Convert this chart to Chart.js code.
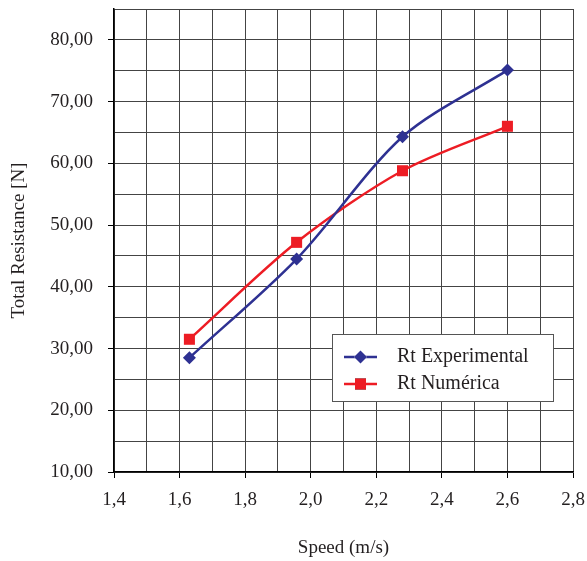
<!DOCTYPE html>
<html>
<head>
<meta charset="utf-8">
<script src="https://cdn.jsdelivr.net/npm/chart.js@4"></script>
<style>
  html, body { margin: 0; padding: 0; background: #fff; }
  #wrap { width: 587px; height: 561px; }
</style>
</head>
<body>
<div id="wrap"><canvas id="myChart" width="587" height="561"></canvas></div>
<script>
const speed = [1.63, 1.957, 2.28, 2.6];
const rtExperimental = [28.5, 44.5, 64.3, 75.1];
const rtNumerica = [31.5, 47.2, 58.8, 66.0];
const seriesNames = ['Rt Experimental', 'Rt Numérica'];

const serif = '"Liberation Serif", "DejaVu Serif", serif';
const textColor = '#231f20';

const toPoints = (xs, ys) => xs.map((x, i) => ({ x: x, y: ys[i] }));

const isMajorX = v => Math.round(v * 10) % 2 === 0;
const isMajorY = v => Math.round(v) % 10 === 0;

// legend box drawn inside the plot, like the original
const boxLegend = {
    id: 'boxLegend',
    afterDraw(chart) {
        const c = chart.ctx;
        const x0 = 332, y0 = 334, w = 221, h = 67;
        c.save();
        c.fillStyle = '#fff';
        c.fillRect(x0, y0, w, h);
        c.strokeStyle = '#555';
        c.lineWidth = 1;
        c.strokeRect(x0 + 0.5, y0 + 0.5, w, h);
        chart.data.datasets.forEach((ds, i) => {
            const y = y0 + 23 + i * 27;
            c.strokeStyle = ds.borderColor;
            c.lineWidth = 2.5;
            c.beginPath();
            c.moveTo(x0 + 12, y);
            c.lineTo(x0 + 45, y);
            c.stroke();
            Chart.helpers.drawPoint(c, {
                pointStyle: ds.pointStyle,
                radius: ds.pointRadius,
                borderWidth: 0
            }, x0 + 28.5, y);
            c.fillStyle = ds.pointBackgroundColor;
            c.fill();
            c.fillStyle = textColor;
            c.font = '20px ' + serif;
            c.textBaseline = 'middle';
            c.fillText(ds.label, x0 + 65, y);
        });
        c.restore();
    }
};

new Chart(document.getElementById('myChart'), {
    type: 'line',
    data: {
        datasets: [
            {
                label: seriesNames[0],
                data: toPoints(speed, rtExperimental),
                borderColor: '#2e3192',
                backgroundColor: '#2e3192',
                pointBackgroundColor: '#2e3192',
                pointBorderWidth: 0,
                pointStyle: 'rectRot',
                pointRadius: 6.5,
                borderWidth: 2.5,
                tension: 0.3
            },
            {
                label: seriesNames[1],
                data: toPoints(speed, rtNumerica),
                borderColor: '#ed1c24',
                backgroundColor: '#ed1c24',
                pointBackgroundColor: '#ed1c24',
                pointBorderWidth: 0,
                pointStyle: 'rect',
                pointRadius: 7.8,
                borderWidth: 2.5,
                tension: 0.3
            }
        ]
    },
    options: {
        responsive: false,
        maintainAspectRatio: false,
        animation: false,
        layout: { padding: { top: 9, right: 14, left: 0, bottom: 0 } },
        plugins: {
            legend: { display: false },
            tooltip: { enabled: false }
        },
        scales: {
            x: {
                type: 'linear',
                min: 1.4,
                max: 2.8,
                afterFit: s => { s.height = 89; s.paddingLeft = 0; s.paddingRight = 0; },
                ticks: {
                    stepSize: 0.1,
                    autoSkip: false,
                    maxRotation: 0,
                    padding: 11,
                    color: textColor,
                    font: { family: serif, size: 19 },
                    callback: v => isMajorX(v) ? v.toFixed(1).replace('.', ',') : ''
                },
                grid: {
                    color: '#444',
                    lineWidth: 1,
                    tickLength: 6,
                    tickColor: ctx => isMajorX(ctx.tick.value) ? '#000' : 'rgba(0,0,0,0)'
                },
                border: { color: '#000', width: 1.5 },
                title: {
                    display: true,
                    text: 'Speed (m/s)',
                    color: textColor,
                    font: { family: serif, size: 19 },
                    padding: { top: 0, bottom: 2 }
                }
            },
            y: {
                type: 'linear',
                min: 10,
                max: 85,
                afterFit: s => { s.width = 114; s.paddingTop = 0; s.paddingBottom = 0; },
                ticks: {
                    stepSize: 5,
                    autoSkip: false,
                    padding: 15,
                    color: textColor,
                    font: { family: serif, size: 19 },
                    callback: v => isMajorY(v) ? v.toFixed(2).replace('.', ',') : ''
                },
                grid: {
                    color: '#444',
                    lineWidth: 1,
                    tickLength: 6,
                    tickColor: ctx => isMajorY(ctx.tick.value) ? '#000' : 'rgba(0,0,0,0)'
                },
                border: { color: '#000', width: 1.5 },
                title: {
                    display: true,
                    text: 'Total Resistance [N]',
                    color: textColor,
                    font: { family: serif, size: 19 },
                    padding: { top: 8, bottom: 0 }
                }
            }
        }
    },
    plugins: [boxLegend]
});
</script>
</body>
</html>
